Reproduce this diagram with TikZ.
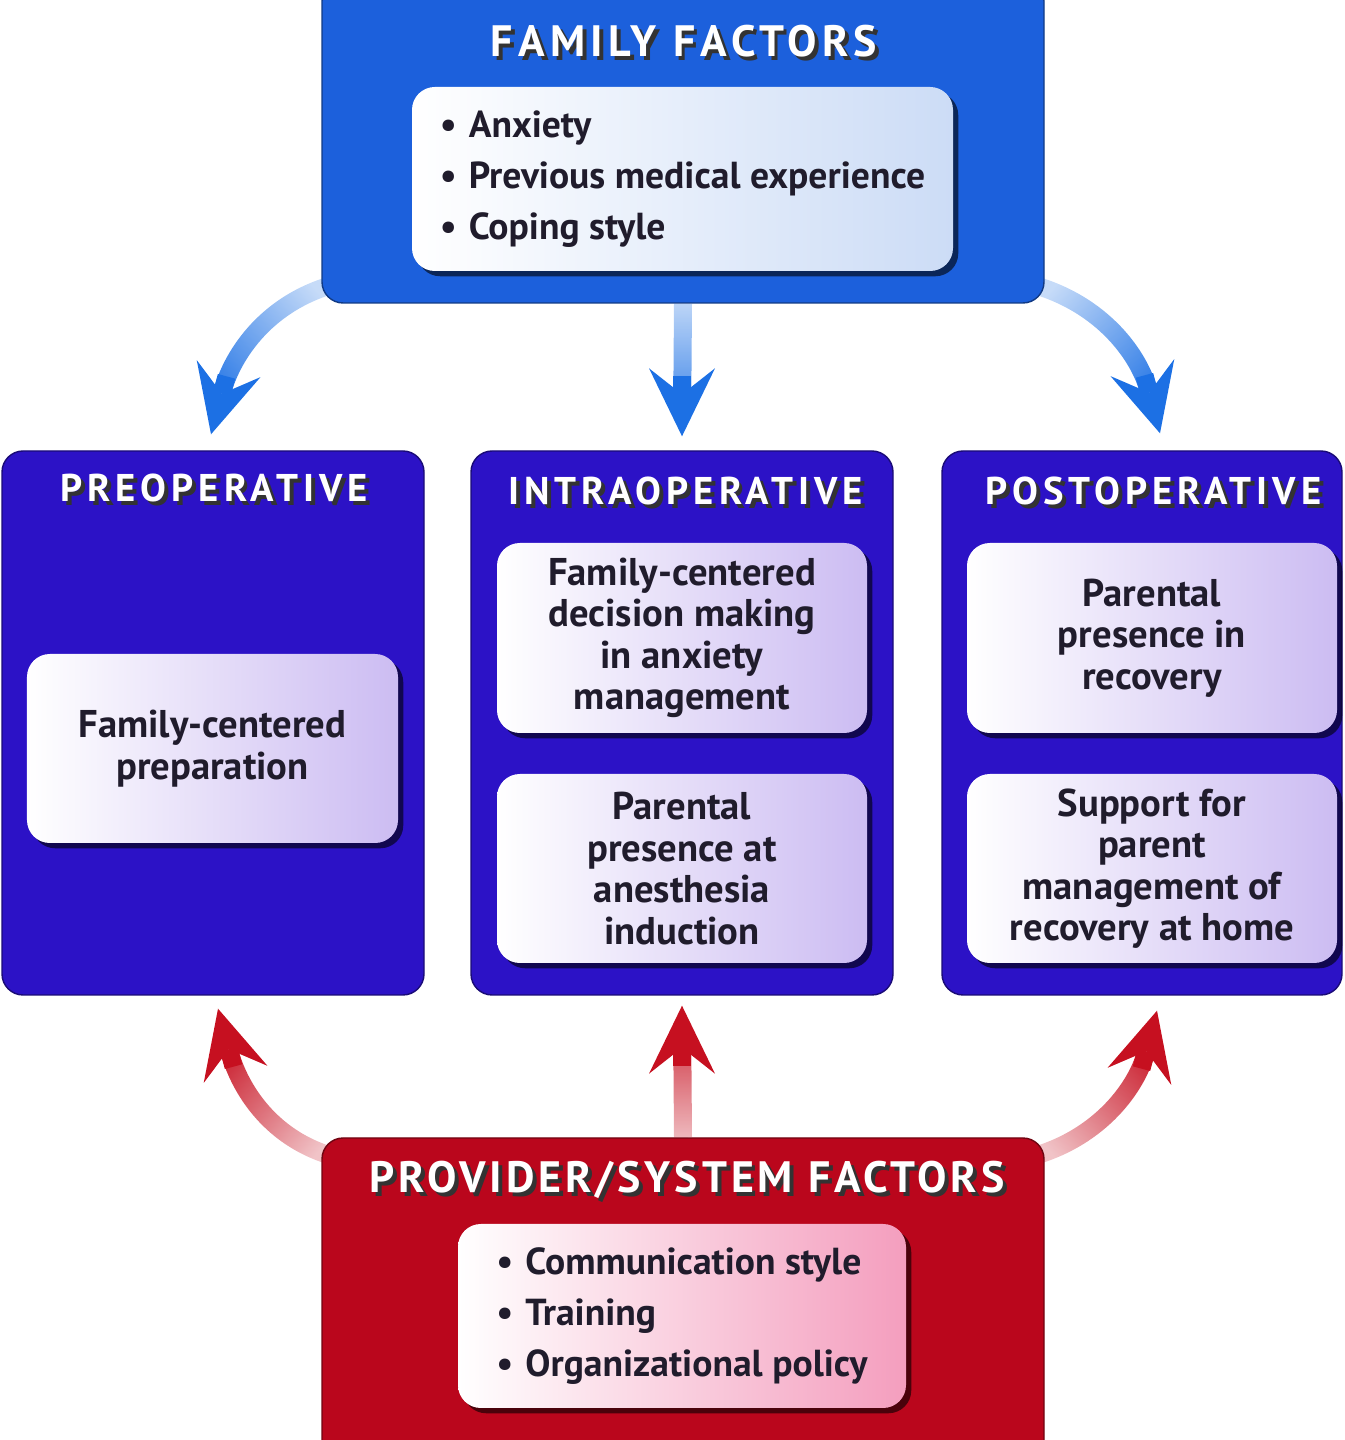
\documentclass[tikz,border=0pt]{standalone}
\usepackage{fontspec}
\setmainfont{PT Sans}
\usetikzlibrary{arrows.meta,positioning,calc,shadows,fadings}
\definecolor{ppblue}{RGB}{28,96,220}
\definecolor{pparrowblue}{RGB}{28,112,228}
\definecolor{ppindigo}{RGB}{44,18,198}
\definecolor{ppred}{RGB}{186,6,28}
\definecolor{pparrowred}{RGB}{198,16,32}
\definecolor{pplilac}{RGB}{204,188,242}
\definecolor{ppsky}{RGB}{204,220,246}
\definecolor{pppink}{RGB}{244,158,190}
\definecolor{ppink}{RGB}{32,28,44}
\tikzfading[name=shaftfade, top color=transparent!75, middle color=transparent!0, bottom color=transparent!0]
\pgfdeclarelayer{back}
\pgfsetlayers{back,main}
\newcommand{\shadowed}[1]{\leavevmode\rlap{\kern1.1pt\raisebox{-1.1pt}{\textcolor{black!80}{#1}}}#1}

\begin{document}
\begin{tikzpicture}[
  panel/.style={rounded corners=6pt,draw=#1!60!black,fill=#1,inner sep=0pt},
  heading/.style={text=white,font=\fontsize{11}{14}\selectfont\bfseries\addfontfeatures{LetterSpace=13}},
  bighead/.style={text=white,font=\fontsize{12.5}{15}\selectfont\bfseries\addfontfeatures{LetterSpace=#1}},
  card/.style={rounded corners=6.5pt,inner sep=0pt,left color=white,right color=#1,
    drop shadow={shadow xshift=1.5pt,shadow yshift=-1.5pt,fill=black,opacity=0.6},
    text=ppink,align=center,font=\fontsize{11}{11.8}\selectfont\bfseries},
  bullets/.style={align=left,font=\fontsize{10.7}{14.5}\selectfont\bfseries},
  shaft/.style={line width=0.18cm,path fading=shaftfade},
  head/.style={line width=0.18cm,-{Stealth[length=0.68cm,width=0.66cm,inset=0.26cm,line width=0pt]}}
]
  \useasboundingbox (0,0) rectangle (13.44,14.4);

  % Family factors
  \node[panel=ppblue,minimum width=7.22cm,minimum height=3.23cm] (fam) at (6.83,12.985) {};
  \node[bighead=12] (famhead) at (6.84,13.97) {\shadowed{FAMILY FACTORS}};
  \node[card=ppsky,bullets,minimum width=5.41cm,minimum height=1.84cm] (famlist) at (6.825,12.61)
    {\textbullet\hspace{0.12cm}Anxiety\\ \textbullet\hspace{0.12cm}Previous medical experience\\ \textbullet\hspace{0.12cm}Coping style};

  % Phases
  \node[panel=ppindigo,minimum width=4.22cm,minimum height=5.44cm] (pre) at (2.13,7.17) {};
  \node[panel=ppindigo,minimum width=4.22cm,minimum height=5.44cm] (intra) at (6.82,7.17) {};
  \node[panel=ppindigo,minimum width=4.0cm,minimum height=5.44cm] (post) at (11.42,7.17) {};
  \node[heading] (prehead) at (2.14,9.50) {\shadowed{PREOPERATIVE}};
  \node[heading] (intrahead) at (6.855,9.47) {\shadowed{INTRAOPERATIVE}};
  \node[heading] (posthead) at (11.535,9.47) {\shadowed{POSTOPERATIVE}};

  \node[card=pplilac,minimum width=3.71cm,minimum height=1.89cm] (prep) at (2.125,6.915)
    {Family-centered\\preparation};
  \node[card=pplilac,minimum width=3.70cm,minimum height=1.90cm] (decide) at (6.82,8.02)
    {Family-centered\\decision making\\in anxiety\\management};
  \node[card=pplilac,minimum width=3.70cm,minimum height=1.89cm] (induct) at (6.82,5.715)
    {Parental\\presence at\\anesthesia\\induction};
  \node[card=pplilac,minimum width=3.70cm,minimum height=1.90cm] (recov) at (11.52,8.02)
    {Parental\\presence in\\recovery};
  \node[card=pplilac,minimum width=3.70cm,minimum height=1.89cm] (home) at (11.52,5.715)
    {Support for\\parent\\management of\\recovery at home};

  % Provider/system factors
  \node[panel=ppred,minimum width=7.22cm,minimum height=3.3cm] (prov) at (6.83,1.37) {};
  \node[bighead=9] (provhead) at (6.87,2.58) {\shadowed{PROVIDER/SYSTEM FACTORS}};
  \node[card=pppink,bullets,minimum width=4.48cm,minimum height=1.84cm] (provlist) at (6.82,1.24)
    {\textbullet\hspace{0.12cm}Communication style\\ \textbullet\hspace{0.12cm}Training\\ \textbullet\hspace{0.12cm}Organizational policy};

  % Arrow tip ends
  \coordinate (preTop) at ([shift={(-0.02,0.16)}]pre.north);
  \coordinate (intraTop) at ([yshift=0.14cm]intra.north);
  \coordinate (postTop) at ([shift={(0.18,0.17)}]post.north);
  \coordinate (preBot) at ([shift={(0.05,-0.13)}]pre.south);
  \coordinate (intraBot) at ([yshift=-0.1cm]intra.south);
  \coordinate (postBot) at ([shift={(0.15,-0.15)}]post.south);

  % Arrows
  \begin{pgfonlayer}{back}
    \draw[shaft,pparrowblue,fading angle=-45,shorten >=0.45cm] ([shift={(0.15,0.2)}]fam.south west) to[out=195,in=75] (preTop);
    \draw[shaft,pparrowblue,shorten >=0.45cm] (fam.south) -- (intraTop);
    \draw[shaft,pparrowblue,fading angle=45,shorten >=0.45cm] ([shift={(-0.15,0.2)}]fam.south east) to[out=-15,in=105] (postTop);
    \draw[shaft,pparrowred,fading angle=-135,shorten >=0.45cm] ([shift={(0.15,-0.2)}]prov.north west) to[out=165,in=-75] (preBot);
    \draw[shaft,pparrowred,fading angle=180,shorten >=0.45cm] (prov.north) -- (intraBot);
    \draw[shaft,pparrowred,fading angle=135,shorten >=0.45cm] ([shift={(-0.15,-0.2)}]prov.north east) to[out=15,in=-105] (postBot);
  \end{pgfonlayer}
  \draw[head,pparrowblue] ([shift={(75:0.6)}]preTop) -- (preTop);
  \draw[head,pparrowblue] ([shift={(90:0.6)}]intraTop) -- (intraTop);
  \draw[head,pparrowblue] ([shift={(105:0.6)}]postTop) -- (postTop);
  \draw[head,pparrowred] ([shift={(-75:0.6)}]preBot) -- (preBot);
  \draw[head,pparrowred] ([shift={(-90:0.6)}]intraBot) -- (intraBot);
  \draw[head,pparrowred] ([shift={(-105:0.6)}]postBot) -- (postBot);
\end{tikzpicture}
\end{document}
